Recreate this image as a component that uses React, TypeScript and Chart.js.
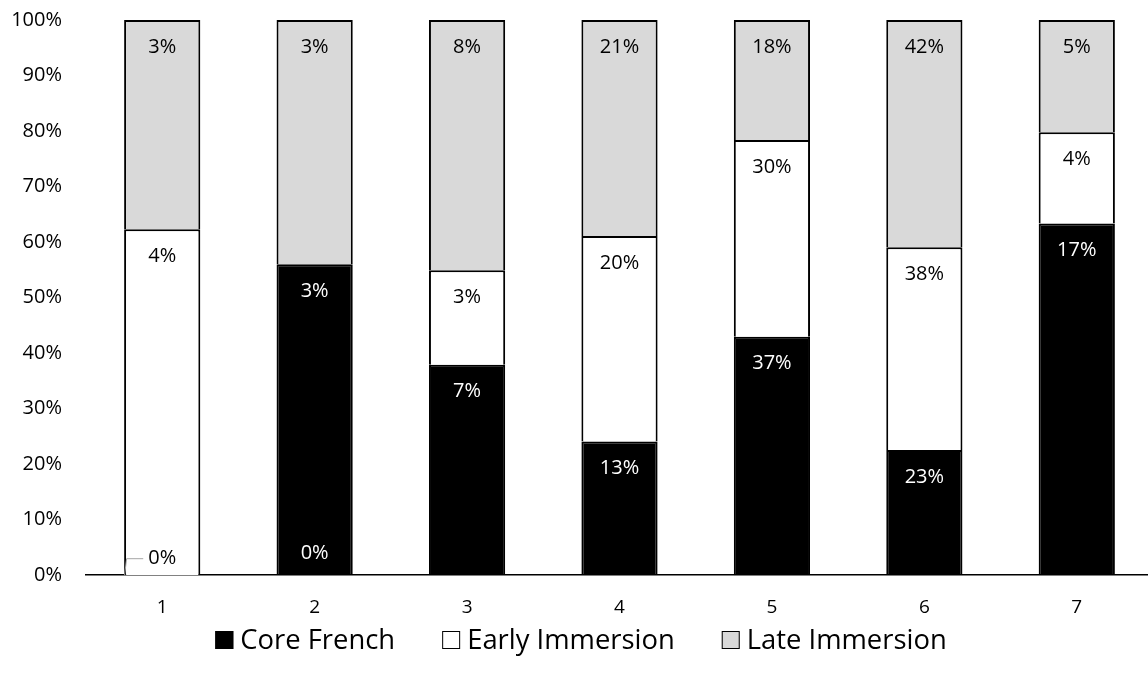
import React, { useEffect, useRef } from "react";
import { Chart, registerables } from "chart.js";

Chart.register(...registerables);

// Program groups along the x axis
const categories = ["1", "2", "3", "4", "5", "6", "7"];

// Raw shares per program (the labels print these, rounded)
const coreFrench = [0, 3.4, 6.9, 13, 36.6, 23.3, 16.6];
const earlyImmersion = [4.4, 0, 3.1, 20, 30.2, 37.7, 4.3];
const lateImmersion = [2.66, 2.67, 8.2, 21, 18.4, 42.3, 5.3];

const seriesNames = ["Core French", "Early Immersion", "Late Immersion"];
const yTicks = [0, 10, 20, 30, 40, 50, 60, 70, 80, 90, 100];

const FONT = '"Open Sans", "Noto Sans", sans-serif';
const W = 1162;
const H = 673;

const rawSeries = [coreFrench, earlyImmersion, lateImmersion];
const totals = categories.map((_, j) => rawSeries.reduce((s, arr) => s + arr[j], 0));
const toPercent = (arr: number[]) => arr.map((v, j) => (totals[j] ? (v / totals[j]) * 100 : 0));

const segmentLabels = {
  id: "segmentLabels",
  afterDatasetsDraw(chart: any) {
    const { ctx } = chart;
    const yScale = chart.scales.y;
    const base = yScale.getPixelForValue(0);
    ctx.save();
    ctx.font = `20px ${FONT}`;
    ctx.textAlign = "center";
    ctx.textBaseline = "middle";
    chart.data.datasets.forEach((ds: any, i: number) => {
      const meta = chart.getDatasetMeta(i);
      meta.data.forEach((el: any, j: number) => {
        const value = rawSeries[i][j];
        const text = `${Math.round(value)}%`;
        let y: number;
        let color = "#000";
        if (value > 0) {
          y = el.y + 27;
          if (i === 0) color = "#fff";
        } else {
          y = base - (i === 0 ? 17 : 22);
          if (i > 0 && coreFrench[j] > 0) color = "#fff";
          if (i === 0) {
            // leader line from the empty segment to its label
            const tw = ctx.measureText(text).width;
            const left = el.x - el.width / 2;
            ctx.strokeStyle = "#A6A6A6";
            ctx.lineWidth = 1;
            ctx.beginPath();
            ctx.moveTo(left + 0.5, base);
            ctx.lineTo(left + 2.5, y + 0.5);
            ctx.lineTo(el.x - tw / 2 - 5, y + 0.5);
            ctx.stroke();
          }
        }
        ctx.fillStyle = color;
        ctx.fillText(text, el.x, y);
      });
    });
    ctx.restore();
  },
};

const bottomLegend = {
  id: "bottomLegend",
  afterDraw(chart: any) {
    const { ctx } = chart;
    const box = 18;
    const gap = 7;
    const itemGap = 47;
    ctx.save();
    ctx.font = `27.4px ${FONT}`;
    ctx.textBaseline = "middle";
    ctx.textAlign = "left";
    const items = chart.data.datasets.map((ds: any) => ({
      label: ds.label,
      fill: ds.backgroundColor,
      stroke: ds.borderColor,
      w: ctx.measureText(ds.label).width,
    }));
    const total =
      items.reduce((s: number, it: any) => s + box + gap + it.w, 0) + itemGap * (items.length - 1);
    let x = chart.width / 2 - total / 2;
    const cy = 640;
    items.forEach((it: any) => {
      ctx.fillStyle = it.fill;
      ctx.fillRect(x, cy - box / 2, box, box);
      ctx.strokeStyle = it.stroke;
      ctx.lineWidth = 1;
      ctx.strokeRect(x + 0.5, cy - box / 2 + 0.5, box - 1, box - 1);
      ctx.fillStyle = "#000";
      ctx.fillText(it.label, x + box + gap, cy + 1);
      x += box + gap + it.w + itemGap;
    });
    ctx.restore();
  },
};

export default function App() {
  const canvasRef = useRef<HTMLCanvasElement | null>(null);

  useEffect(() => {
    document.body.style.margin = "0";
    document.body.style.overflow = "hidden";
    const canvas = canvasRef.current;
    if (!canvas) return;
    const fills = ["#000000", "#FFFFFF", "#D9D9D9"];
    const chart = new Chart(canvas, {
      type: "bar",
      data: {
        labels: categories,
        datasets: rawSeries.map((arr, i) => ({
          label: seriesNames[i],
          data: toPercent(arr),
          backgroundColor: fills[i],
          borderColor: "#000000",
          borderWidth: 2,
          barPercentage: 0.5,
          categoryPercentage: 1,
        })),
      },
      options: {
        animation: false,
        responsive: false,
        maintainAspectRatio: false,
        layout: { padding: { top: 20, right: 9, left: 0, bottom: 33 } },
        plugins: {
          legend: { display: false },
          tooltip: { enabled: false },
        },
        scales: {
          x: {
            stacked: true,
            grid: { display: false, drawTicks: false },
            border: { display: true, color: "#000", width: 1.5 },
            ticks: { color: "#000", font: { family: FONT, size: 19 }, padding: 21 },
          },
          y: {
            stacked: true,
            min: 0,
            max: 100,
            // hidden grid; the tick length only sets the gap before the labels
            grid: { display: false, drawTicks: true, tickLength: 24 },
            border: { display: false },
            afterFit: (scale: any) => {
              scale.width = 86;
            },
            afterBuildTicks: (scale: any) => {
              scale.ticks = yTicks.map((v) => ({ value: v }));
            },
            ticks: {
              color: "#000",
              font: { family: FONT, size: 20 },
              padding: 0,
              callback: (v: any) => `${v}%`,
            },
          },
        },
      },
      plugins: [segmentLabels, bottomLegend],
    });
    return () => chart.destroy();
  }, []);

  return (
    <div style={{ position: "fixed", left: 0, top: 0, width: W, height: H, overflow: "hidden" }}>
      <canvas ref={canvasRef} width={W} height={H} style={{ width: W, height: H, display: "block" }} />
    </div>
  );
}
